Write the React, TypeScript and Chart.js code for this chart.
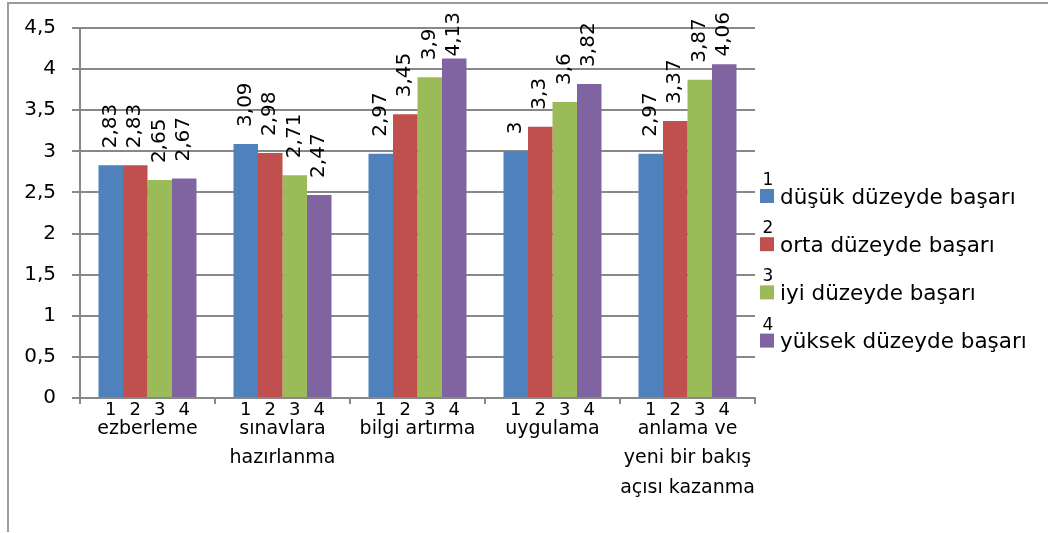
import React, { useEffect, useRef } from "react";
import { Chart, registerables } from "chart.js";

Chart.register(...registerables);

// Categories (multi-line labels are arrays of lines)
const categories: string[][] = [
  ["ezberleme"],
  ["sınavlara", "hazırlanma"],
  ["bilgi artırma"],
  ["uygulama"],
  ["anlama ve", "yeni bir bakış", "açısı kazanma"],
];

const seriesNames = [
  "düşük düzeyde başarı",
  "orta düzeyde başarı",
  "iyi düzeyde başarı",
  "yüksek düzeyde başarı",
];
const seriesNumbers = ["1", "2", "3", "4"];
const seriesColors = ["#4F81BD", "#C0504D", "#9BBB59", "#8064A2"];

const dusuk = [2.83, 3.09, 2.97, 3, 2.97];
const orta = [2.83, 2.98, 3.45, 3.3, 3.37];
const iyi = [2.65, 2.71, 3.9, 3.6, 3.87];
const yuksek = [2.67, 2.47, 4.13, 3.82, 4.06];
const seriesValues = [dusuk, orta, iyi, yuksek];

const yMin = 0;
const yMax = 4.5;
const yStep = 0.5;

const FONT = "'DejaVu Sans', sans-serif";
const GRID = "#888888";

const fmt = (v: number) => String(v).replace(".", ",");

// Outer chart border (top and left edges)
const framePlugin = {
  id: "frame",
  beforeDraw(chart: any) {
    const ctx = chart.ctx;
    ctx.save();
    ctx.strokeStyle = "#9c9c9c";
    ctx.lineWidth = 2;
    ctx.beginPath();
    ctx.moveTo(8, 532);
    ctx.lineTo(8, 3);
    ctx.lineTo(chart.width, 3);
    ctx.stroke();
    ctx.restore();
  },
};

// Rotated value labels above bars and series numbers under bars
const barLabelPlugin = {
  id: "barLabels",
  afterDatasetsDraw(chart: any) {
    const ctx = chart.ctx;
    const xBottom = chart.chartArea.bottom;
    chart.data.datasets.forEach((ds: any, i: number) => {
      const meta = chart.getDatasetMeta(i);
      meta.data.forEach((bar: any, j: number) => {
        const text = fmt(ds.data[j]);
        ctx.save();
        ctx.font = `20px ${FONT}`;
        const w = ctx.measureText(text).width;
        let start = bar.y - 17;
        if (start - w < 12) start = 12 + w;
        ctx.translate(bar.x, start);
        ctx.rotate(-Math.PI / 2);
        ctx.textAlign = "left";
        ctx.textBaseline = "middle";
        ctx.fillStyle = "#000";
        ctx.fillText(text, 0, 0);
        ctx.restore();

        ctx.save();
        ctx.font = `18px ${FONT}`;
        ctx.textAlign = "center";
        ctx.textBaseline = "middle";
        ctx.fillStyle = "#000";
        ctx.fillText(seriesNumbers[i], bar.x, xBottom + 12);
        ctx.restore();
      });
    });
  },
};

// Legend on the right with series numbers above the swatches
const legendPlugin = {
  id: "sideLegend",
  afterDraw(chart: any) {
    const ctx = chart.ctx;
    const left = chart.chartArea.right + 5;
    chart.data.datasets.forEach((ds: any, i: number) => {
      const top = 189 + i * 48.2;
      ctx.save();
      ctx.fillStyle = ds.backgroundColor;
      ctx.fillRect(left, top, 14, 14);
      ctx.fillStyle = "#000";
      ctx.font = `17px ${FONT}`;
      ctx.textAlign = "center";
      ctx.textBaseline = "alphabetic";
      ctx.fillText(seriesNumbers[i], left + 8, top - 4);
      ctx.font = `21.5px ${FONT}`;
      ctx.textAlign = "left";
      ctx.fillText(ds.label, left + 20, top + 14.5);
      ctx.restore();
    });
  },
};

export default function App() {
  const canvasRef = useRef<HTMLCanvasElement | null>(null);

  useEffect(() => {
    const canvas = canvasRef.current;
    if (!canvas) return;
    const chart = new Chart(canvas, {
      type: "bar",
      data: {
        labels: categories,
        datasets: seriesValues.map((values, i) => ({
          label: seriesNames[i],
          data: values,
          backgroundColor: seriesColors[i],
          borderWidth: 0,
          barPercentage: 1,
          categoryPercentage: 0.726,
        })),
      },
      options: {
        animation: false,
        responsive: false,
        layout: { padding: { left: 0, top: 27, right: 293, bottom: 0 } },
        plugins: {
          legend: { display: false },
          tooltip: { enabled: false },
        },
        scales: {
          x: {
            grid: {
              display: true,
              drawOnChartArea: false,
              drawTicks: true,
              tickLength: 6,
              color: GRID,
              lineWidth: 2,
              offset: true,
            },
            border: { display: true, color: GRID, width: 2 },
            ticks: {
              font: { family: FONT, size: 19, lineHeight: 1.563 },
              color: "#000",
              padding: 10,
              maxRotation: 0,
              autoSkip: false,
            },
            afterFit(scale: any) {
              scale.height = 135;
            },
          },
          y: {
            min: yMin,
            max: yMax,
            grid: { color: GRID, lineWidth: 2, tickLength: 8 },
            border: { display: true, color: GRID, width: 2 },
            ticks: {
              stepSize: yStep,
              font: { family: FONT, size: 20 },
              color: "#000",
              padding: 16,
              callback: (v: any) => fmt(Number(v)),
            },
            afterFit(scale: any) {
              scale.width = 80;
            },
          },
        },
      },
      plugins: [framePlugin, barLabelPlugin, legendPlugin],
    });
    return () => chart.destroy();
  }, []);

  return (
    <div
      style={{
        position: "fixed",
        left: 0,
        top: 0,
        width: 1048,
        height: 533,
        background: "#fff",
        overflow: "hidden",
      }}
    >
      <canvas ref={canvasRef} width={1048} height={533} style={{ display: "block" }} />
    </div>
  );
}
